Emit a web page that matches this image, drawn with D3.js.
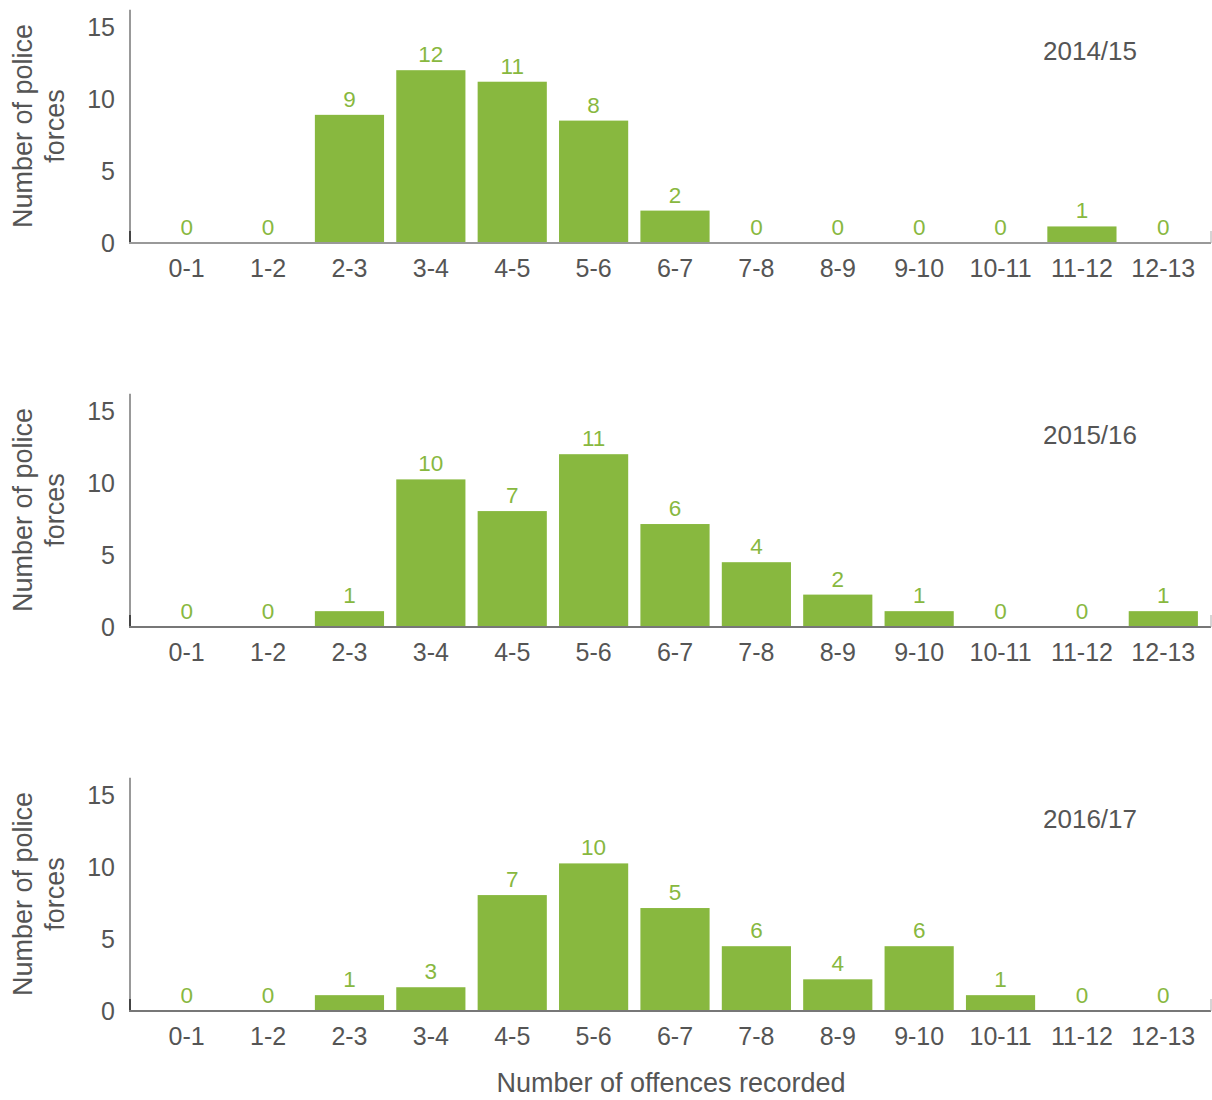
<!DOCTYPE html>
<html>
<head>
<meta charset="utf-8">
<script src="https://cdn.jsdelivr.net/npm/d3@7"></script>
<style>
  html, body { margin: 0; padding: 0; background: #fff; }
  svg { display: block; font-family: "Liberation Sans", Arial, Helvetica, sans-serif; }
</style>
</head>
<body>
<svg id="chart" width="1212" height="1100"></svg>
<script>
// ---- data ----
const categories = ["0-1","1-2","2-3","3-4","4-5","5-6","6-7","7-8","8-9","9-10","10-11","11-12","12-13"];
const years = ["2014/15", "2015/16", "2016/17"];
// bar heights as drawn in the reference
const values2014 = [0, 0, 8.9, 12.0, 11.2, 8.5, 2.25, 0, 0, 0, 0, 1.15, 0];
const values2015 = [0, 0, 1.1, 10.25, 8.05, 12.0, 7.15, 4.5, 2.25, 1.1, 0, 0, 1.1];
const values2016 = [0, 0, 1.1, 1.65, 8.05, 10.25, 7.15, 4.5, 2.2, 4.5, 1.1, 0, 0];
// value labels as printed in the reference
const labels2014 = [0, 0, 9, 12, 11, 8, 2, 0, 0, 0, 0, 1, 0];
const labels2015 = [0, 0, 1, 10, 7, 11, 6, 4, 2, 1, 0, 0, 1];
const labels2016 = [0, 0, 1, 3, 7, 10, 5, 6, 4, 6, 1, 0, 0];
const yTicks = [0, 5, 10, 15];
const yTitleLines = ["Number of police", "forces"];
const xTitle = "Number of offences recorded";

const panels = [
  { year: years[0], values: values2014, labels: labels2014 },
  { year: years[1], values: values2015, labels: labels2015 },
  { year: years[2], values: values2016, labels: labels2016 }
];

// ---- layout ----
const svg = d3.select("#chart");
const green = "#88b83f";
const textGray = "#555";
const axisGray = "#999";
const axisLeft = 130, axisRight = 1211;
const firstBaseline = 243, panelStep = 384, pxPerUnit = 14.4, yMax = 16.2;

const x = d3.scaleBand()
  .domain(categories)
  .range([146, 1204])
  .paddingInner(0.15)
  .paddingOuter(0.075);

panels.forEach((p, i) => {
  const base = firstBaseline + i * panelStep;
  const y = d3.scaleLinear().domain([0, yMax]).range([base, base - yMax * pxPerUnit]);
  const g = svg.append("g");

  // bars
  g.selectAll("rect.bar")
    .data(p.values)
    .join("rect")
    .attr("class", "bar")
    .attr("x", (d, j) => x(categories[j]))
    .attr("width", x.bandwidth())
    .attr("y", d => y(d))
    .attr("height", d => base - y(d))
    .attr("fill", green);

  // value labels
  g.selectAll("text.val")
    .data(p.labels)
    .join("text")
    .attr("class", "val")
    .attr("x", (d, j) => x(categories[j]) + x.bandwidth() / 2)
    .attr("y", (d, j) => y(p.values[j]) - 8)
    .attr("text-anchor", "middle")
    .attr("font-size", 22.5)
    .attr("fill", green)
    .text(d => d);

  // y axis line
  g.append("line")
    .attr("x1", axisLeft).attr("x2", axisLeft)
    .attr("y1", y(yMax)).attr("y2", base)
    .attr("stroke", axisGray).attr("stroke-width", 2);
  g.append("line")
    .attr("x1", axisLeft).attr("x2", axisLeft)
    .attr("y1", base - 12).attr("y2", base)
    .attr("stroke", "#444").attr("stroke-width", 2);

  // baseline
  g.append("line")
    .attr("x1", axisLeft - 1).attr("x2", axisRight)
    .attr("y1", base).attr("y2", base)
    .attr("stroke", i === 0 ? axisGray : "#777").attr("stroke-width", 2);
  g.append("line")
    .attr("x1", axisRight).attr("x2", axisRight)
    .attr("y1", base - 12).attr("y2", base)
    .attr("stroke", "#aaa").attr("stroke-width", 1);

  // y tick labels
  g.selectAll("text.ytick")
    .data(yTicks)
    .join("text")
    .attr("class", "ytick")
    .attr("x", 115)
    .attr("y", d => y(d))
    .attr("dy", "0.36em")
    .attr("text-anchor", "end")
    .attr("font-size", 25)
    .attr("fill", textGray)
    .text(d => d);

  // category labels
  g.selectAll("text.cat")
    .data(categories)
    .join("text")
    .attr("class", "cat")
    .attr("x", d => x(d) + x.bandwidth() / 2)
    .attr("y", base + 34)
    .attr("text-anchor", "middle")
    .attr("font-size", 25)
    .attr("fill", textGray)
    .text(d => d);

  // year label
  g.append("text")
    .attr("x", 1090)
    .attr("y", base - 183)
    .attr("text-anchor", "middle")
    .attr("font-size", 26)
    .attr("fill", textGray)
    .text(p.year);

  // y title
  const cy = base - 117;
  yTitleLines.forEach((line, k) => {
    const bx = 32 + k * 32;
    g.append("text")
      .attr("transform", `translate(${bx},${cy}) rotate(-90)`)
      .attr("text-anchor", "middle")
      .attr("font-size", 27)
      .attr("fill", textGray)
      .text(line);
  });
});

// x title
svg.append("text")
  .attr("x", 671)
  .attr("y", 1092)
  .attr("text-anchor", "middle")
  .attr("font-size", 27)
  .attr("fill", textGray)
  .text(xTitle);
</script>
</body>
</html>
